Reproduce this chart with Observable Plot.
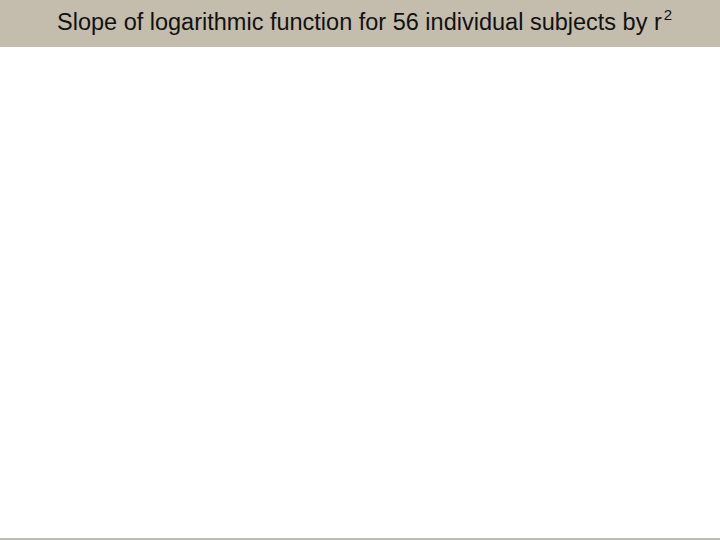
<!DOCTYPE html>
<html>
<head>
<meta charset="utf-8">
<script src="https://cdn.jsdelivr.net/npm/d3@7"></script>
<script src="https://cdn.jsdelivr.net/npm/@observablehq/plot@0.6"></script>
<style>
  html, body { margin: 0; padding: 0; background: #ffffff; width: 720px; height: 540px; overflow: hidden; }
  #title { height: 47px; background: #c4bcad; font-family: "Liberation Sans", Arial, sans-serif; font-size: 23.5px; color: #111; line-height: 45px; padding-left: 57px; box-sizing: border-box; white-space: nowrap; }
  #title sup { font-size: 15px; vertical-align: 10px; line-height: 0; margin-left: 2px; }
  #chart { height: 491px; }
  #rule { height: 2px; background: #bdbcae; }
</style>
</head>
<body>
<div id="title">Slope of logarithmic function for 56 individual subjects by r<sup>2</sup></div>
<div id="chart"></div>
<div id="rule"></div>
<script>
// The reference plot area is empty: no points are visible.
const subjects = [];
const r2Values = [];
const slopeValues = [];

const data = subjects.map((s, i) => ({subject: s, r2: r2Values[i], slope: slopeValues[i]}));

const chart = Plot.plot({
  width: 720,
  height: 491,
  margin: 0,
  x: {axis: null},
  y: {axis: null},
  style: {background: "#ffffff"},
  marks: [
    Plot.dot(data, {x: "r2", y: "slope", fill: "black"})
  ]
});
document.getElementById("chart").appendChild(chart);
</script>
</body>
</html>
